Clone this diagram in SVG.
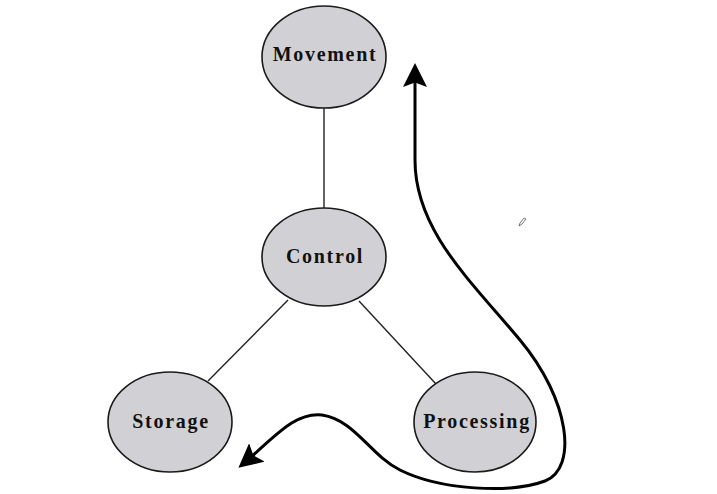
<svg xmlns="http://www.w3.org/2000/svg" width="717" height="494" viewBox="0 0 717 494">
<style>
.node ellipse{fill:#d1d1d5;stroke:#1a1a1a;stroke-width:1.6}
.node text{font-family:"Liberation Serif",serif;font-weight:bold;font-size:20px;letter-spacing:1.7px;text-anchor:middle;fill:#111}
.edge{stroke:#222;stroke-width:1.4;fill:none}
.flow{stroke:#000;stroke-width:3;fill:none}
</style>
<defs>
<marker id="ah" markerWidth="8" markerHeight="8" refX="6" refY="4" orient="auto" markerUnits="strokeWidth" viewBox="0 0 8 8">
<path d="M0,0 L8,4 L0,8 L1.5,4 Z" fill="#000"/>
</marker>
</defs>
<rect width="717" height="494" fill="#fff"/>
<g id="connectors">
<line class="edge" x1="324" y1="108" x2="324" y2="209"/>
<line class="edge" x1="288" y1="300" x2="208" y2="381"/>
<line class="edge" x1="359" y1="301" x2="436" y2="384"/>
<path class="flow" marker-end="url(#ah)" d="M 415 160 C 415 230, 470 280, 520 340 C 570 400, 578 468, 545 481 C 510 494, 440 490, 400 470 C 370 455, 355 420, 322 415 C 294 412, 274 438, 243 464"/>
<path class="flow" marker-end="url(#ah)" d="M 415 160 L 415 69"/>
</g>
<g id="movement" class="node">
<ellipse cx="324" cy="57" rx="62" ry="51"/>
<text x="325" y="61">Movement</text>
</g>
<g id="control" class="node">
<ellipse cx="324" cy="257" rx="62" ry="49"/>
<text x="325" y="263">Control</text>
</g>
<g id="storage" class="node">
<ellipse cx="170" cy="422" rx="62" ry="50"/>
<text x="171" y="428">Storage</text>
</g>
<g id="processing" class="node">
<ellipse cx="475" cy="422" rx="61" ry="50"/>
<text x="477" y="428">Processing</text>
</g>
<g id="pencil">
<path d="M519,226 L520,223 L524,218 L526,219 L522,224 Z" fill="none" stroke="#555" stroke-width="0.8"/>
</g>
</svg>
